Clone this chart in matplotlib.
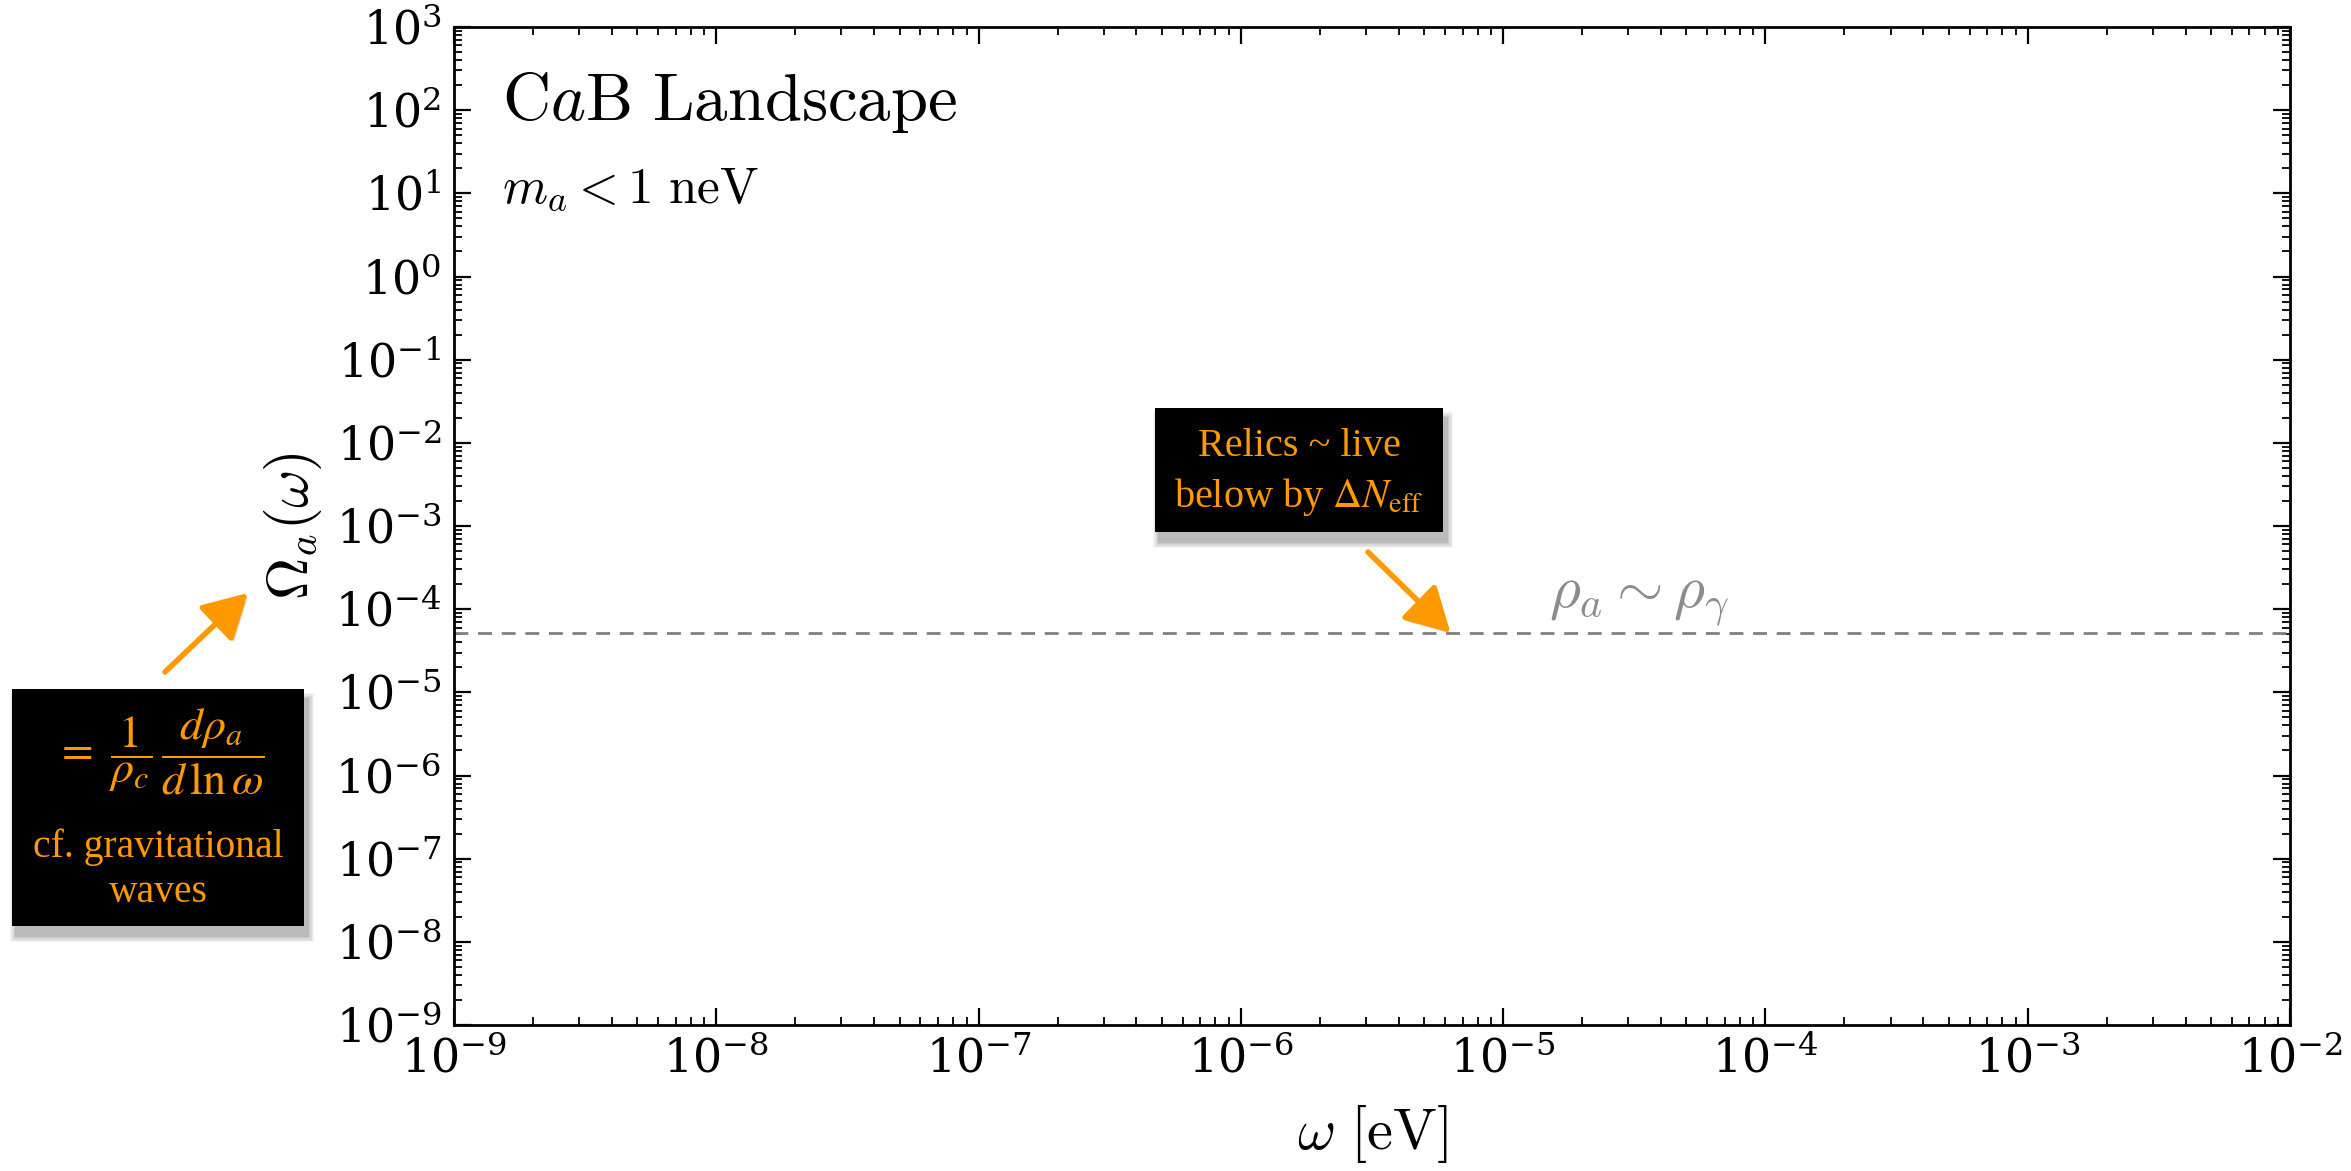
import matplotlib
matplotlib.use("Agg")
import matplotlib.pyplot as plt
import matplotlib.patches as mpatches
import matplotlib.patheffects as pe
from matplotlib.ticker import LogLocator, NullFormatter

plt.rcParams["mathtext.fontset"] = "cm"
plt.rcParams["font.family"] = ["DejaVu Serif"]

# Axis ranges
x_limits = [1e-9, 1e-2]
y_limits = [1e-9, 1e3]

# Photon-like energy density reference level
rho_gamma_level = 5.2e-5
rho_label_omega = 1.5e-5
relic_arrow_omega = 6.3e-6

W, H = 2351, 1171
fig = plt.figure(figsize=(W / 100, H / 100), dpi=100)
ax = fig.add_axes([454 / W, 1 - 1025 / H, (2290 - 454) / W, (1025 - 27) / H])

ax.set_xscale("log")
ax.set_yscale("log")
ax.set_xlim(*x_limits)
ax.set_ylim(*y_limits)

ax.xaxis.set_major_locator(LogLocator(base=10, numticks=20))
ax.yaxis.set_major_locator(LogLocator(base=10, numticks=20))
ax.xaxis.set_minor_locator(LogLocator(base=10, subs=range(2, 10), numticks=200))
ax.yaxis.set_minor_locator(LogLocator(base=10, subs=range(2, 10), numticks=200))
ax.xaxis.set_minor_formatter(NullFormatter())
ax.yaxis.set_minor_formatter(NullFormatter())

ax.tick_params(which="both", direction="in", top=True, right=True, labelsize=33)
ax.tick_params(which="major", length=12, width=1.6, pad=9)
ax.tick_params(which="minor", length=6, width=1.3)
for sp in ax.spines.values():
    sp.set_linewidth(2.0)

ax.set_xlabel(r"$\omega\ [\mathrm{eV}]$", fontsize=42)
ax.set_ylabel(r"$\Omega_a(\omega)$", fontsize=42)
ax.xaxis.set_label_coords(0.5, -0.078)
ax.yaxis.set_label_coords(-0.071, 0.5)

# rho_a ~ rho_gamma line
ax.axhline(rho_gamma_level, color="#808080", lw=2.0, ls=(0, (5, 3.5)))
ax.text(rho_label_omega, rho_gamma_level * 2.05, r"$\rho_a \sim \rho_\gamma$",
        fontsize=43, color="#8c8c8c", ha="left", va="baseline")

# Panel titles
ax.text(502 / W, 1 - 102 / H, r"$\mathrm{C}a\mathrm{B\ Landscape}$", fontsize=48,
        transform=fig.transFigure, ha="left", va="center")
ax.text(502 / W, 1 - 190 / H, r"$m_a < 1\ \mathrm{neV}$", fontsize=37,
        transform=fig.transFigure, ha="left", va="center")

orange = "#FF9900"


def fpx(x, y):
    return (x / W, 1 - y / H)


def shadow_box(x0, y0, x1, y1):
    # soft drop shadow followed by the black box
    for i, a in enumerate([0.04, 0.05, 0.06, 0.07, 0.08]):
        g = 12 - 2.5 * i
        r = mpatches.Rectangle(fpx(x0 + 4 - g / 2, y1 + 10 + g / 2),
                               (x1 - x0 + g) / W, (y1 - y0 + g) / H,
                               transform=fig.transFigure, facecolor="black",
                               alpha=a, lw=0, zorder=5)
        fig.patches.append(r)
    box = mpatches.Rectangle(fpx(x0, y1), (x1 - x0) / W, (y1 - y0) / H,
                             transform=fig.transFigure, facecolor="black",
                             lw=0, zorder=6)
    fig.patches.append(box)


shadow_box(12, 689, 304, 926)
shadow_box(1155, 408, 1443, 532)

txt_kw = dict(color=orange, ha="center", va="center", zorder=7,
              family=["Liberation Serif"], math_fontfamily="stix")

fig.text(*fpx(160, 752), r"$=\ \dfrac{1}{\rho_c}\,\dfrac{d\rho_a}{d\,\ln\omega}$",
         fontsize=33, **txt_kw)
fig.text(*fpx(158, 847), "cf. gravitational", fontsize=28.5, **txt_kw)
fig.text(*fpx(158, 892), "waves", fontsize=28.5, **txt_kw)

fig.text(*fpx(1299, 447), r"Relics ~ live", fontsize=29, **txt_kw)
fig.text(*fpx(1299, 497), r"below by $\Delta N_{\mathrm{eff}}$", fontsize=29, **txt_kw)

arrow_kw = dict(arrowstyle="-|>,head_length=0.9,head_width=0.5", color=orange,
                lw=4, mutation_scale=30, shrinkA=0, shrinkB=0)

a1 = ax.annotate("", xy=(relic_arrow_omega, rho_gamma_level), xycoords="data",
                 xytext=fpx(1368, 552), textcoords="figure fraction",
                 arrowprops=arrow_kw, annotation_clip=False)
a1.arrow_patch.set_path_effects([pe.SimplePatchShadow(offset=(2, -3), alpha=0.2), pe.Normal()])

a2 = ax.annotate("", xy=fpx(248, 593), xycoords="figure fraction",
                 xytext=fpx(165, 672), textcoords="figure fraction",
                 arrowprops=arrow_kw, annotation_clip=False)
a2.arrow_patch.set_path_effects([pe.SimplePatchShadow(offset=(2, -3), alpha=0.2), pe.Normal()])

fig.savefig("out.png", dpi=100)
